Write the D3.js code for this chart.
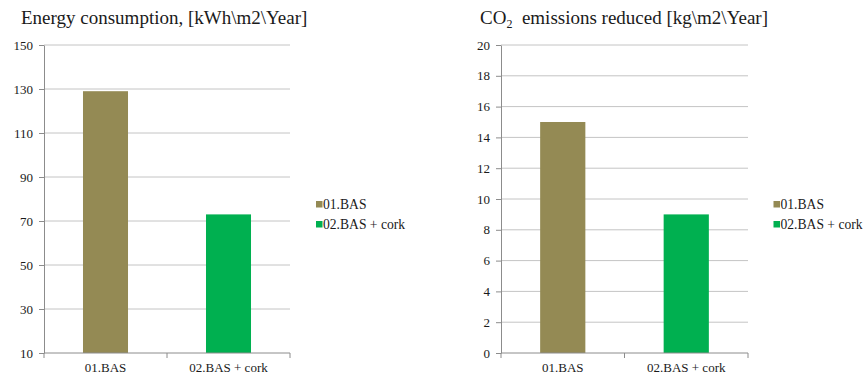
<!DOCTYPE html>
<html>
<head>
<meta charset="utf-8">
<script src="https://cdn.jsdelivr.net/npm/d3@7"></script>
<style>
  html, body { margin: 0; padding: 0; background: #fff; }
  svg { display: block; }
  svg text { font-family: "Liberation Serif", "Times New Roman", serif; fill: #1a1a1a; }
</style>
</head>
<body>
<svg id="chart" width="866" height="377"></svg>
<script>
// Scenarios compared in both panels
const categories = ["01.BAS", "02.BAS + cork"];
// Annual energy consumption per square metre
const energyValues = [129, 73];
const energyTicks = [10, 30, 50, 70, 90, 110, 130, 150];
// Annual CO2 emissions per square metre
const co2Values = [15, 9];
const co2Ticks = [0, 2, 4, 6, 8, 10, 12, 14, 16, 18, 20];
// Series colours
const colors = ["#948A54", "#00B050"];

const SERIF = "'Liberation Serif', 'Times New Roman', serif";
const svg = d3.select("#chart");

function panel(opts) {
  const g = svg.append("g");
  const x = d3.scaleBand().domain(categories).range([opts.x0, opts.x1])
    .paddingInner(0.634).paddingOuter(0.317);
  const xTicks = d3.scaleLinear().domain([0, categories.length]).range([opts.x0, opts.x1]);
  const y = d3.scaleLinear().domain(opts.domain).range([353, 45]);

  // horizontal gridlines
  g.append("g").selectAll("line").data(opts.ticks.filter(t => t !== opts.domain[0]))
    .join("line")
    .attr("x1", opts.x0).attr("x2", opts.x1)
    .attr("y1", d => y(d)).attr("y2", d => y(d))
    .attr("stroke", "#c4c4c4").attr("stroke-width", 1);

  // bars
  g.append("g").selectAll("rect").data(opts.values)
    .join("rect")
    .attr("x", (d, i) => x(categories[i]))
    .attr("width", x.bandwidth())
    .attr("y", d => y(d))
    .attr("height", d => y(opts.domain[0]) - y(d))
    .attr("fill", (d, i) => colors[i]);

  // y axis
  const yAxis = g.append("g").attr("transform", `translate(${opts.x0},0)`)
    .call(d3.axisLeft(y).tickValues(opts.ticks).tickSize(5).tickPadding(6).tickSizeOuter(0));
  yAxis.attr("font-family", SERIF).attr("font-size", 13);
  yAxis.select(".domain").attr("stroke", "#8c8c8c");
  yAxis.selectAll(".tick line").attr("stroke", "#8c8c8c");
  yAxis.selectAll(".tick text").style("font-family", SERIF).style("font-size", "13px").attr("fill", "#1a1a1a");

  // x axis: boundaries between categories carry the tick marks
  const xAxisG = g.append("g").attr("transform", `translate(0,${y(opts.domain[0])})`);
  xAxisG.append("line").attr("x1", opts.x0).attr("x2", opts.x1)
    .attr("stroke", "#8c8c8c");
  xAxisG.selectAll("line.t").data(d3.range(categories.length + 1))
    .join("line").attr("class", "t")
    .attr("x1", d => xTicks(d)).attr("x2", d => xTicks(d))
    .attr("y1", 0).attr("y2", 5).attr("stroke", "#8c8c8c");
  xAxisG.selectAll("text").data(categories)
    .join("text")
    .attr("x", d => x(d) + x.bandwidth() / 2)
    .attr("y", 19)
    .attr("text-anchor", "middle")
    .style("font-family", SERIF).style("font-size", "13px")
    .text(d => d);

  // legend
  const lg = g.append("g").attr("transform", `translate(${opts.legendX},201)`);
  const items = lg.selectAll("g").data(categories).join("g")
    .attr("transform", (d, i) => `translate(0,${i * 20})`);
  items.append("rect").attr("width", 6.5).attr("height", 6.5)
    .attr("fill", (d, i) => colors[i]);
  items.append("text").attr("x", 7).attr("y", 8)
    .style("font-family", SERIF).style("font-size", "13.6px").text(d => d);

  return g;
}

panel({ x0: 44, x1: 290, domain: [10, 150], ticks: energyTicks, values: energyValues, legendX: 316 });
panel({ x0: 501, x1: 748, domain: [0, 20], ticks: co2Ticks, values: co2Values, legendX: 773.5 });

// titles
svg.append("text").attr("x", 21).attr("y", 24).style("font-size", "19px")
  .text("Energy consumption, [kWh\\m2\\Year]");

const t2 = svg.append("text").attr("x", 480).attr("y", 24).style("font-size", "19px");
t2.append("tspan").text("CO");
t2.append("tspan").style("font-size", "12px").attr("dy", 4).text("2");
t2.append("tspan").attr("dy", -4).text("\u00a0 emissions reduced [kg\\m2\\Year]");
</script>
</body>
</html>
